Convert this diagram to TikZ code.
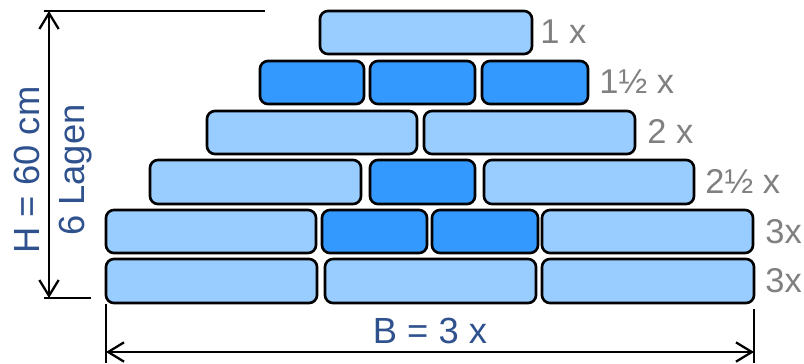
\documentclass[tikz,border=0pt]{standalone}
\usepackage{fontspec}
\setmainfont{Liberation Sans}
\usetikzlibrary{arrows.meta}

\definecolor{brickLight}{RGB}{153,204,255}
\definecolor{brickDark}{RGB}{51,153,255}
\definecolor{countGray}{RGB}{128,128,128}
\definecolor{dimBlue}{RGB}{47,82,143}

\tikzset{
  lightbrick/.style={draw=black, line width=1.5pt, rounded corners=4.5pt, fill=brickLight},
  darkbrick/.style={draw=black, line width=1.5pt, rounded corners=4.5pt, fill=brickDark},
  count/.style={text=countGray, anchor=base west, inner sep=0pt, font=\fontsize{19.6}{23.5}\selectfont},
  dimtext/.style={text=dimBlue, inner sep=0pt, font=\fontsize{20.7}{25.5}\selectfont},
  dimline/.style={line width=1.3pt, {Straight Barb[length=9pt,width=11pt]}-{Straight Barb[length=9pt,width=11pt]}},
  extline/.style={line width=1.6pt},
}

\begin{document}
\begin{tikzpicture}[x=0.02cm, y=-0.02cm]
\useasboundingbox (0,0) rectangle (804,363);

% layer 1 (top)
\draw[lightbrick] (320,11) rectangle (532,54);
\node[count] (c1) at (540,43) {1 x};

% layer 2
\draw[darkbrick] (260,61) rectangle (364,104);
\draw[darkbrick] (370,61) rectangle (475,104);
\draw[darkbrick] (482,61) rectangle (588,104);
\node[count] (c2) at (599,93) {1½ x};

% layer 3
\draw[lightbrick] (207,111) rectangle (417,154);
\draw[lightbrick] (424,111) rectangle (635,154);
\node[count] (c3) at (647,143) {2 x};

% layer 4
\draw[lightbrick] (150,160) rectangle (361,204);
\draw[darkbrick] (370,160) rectangle (475,204);
\draw[lightbrick] (484,160) rectangle (694,204);
\node[count] (c4) at (705,193) {2½ x};

% layer 5
\draw[lightbrick] (106,210) rectangle (316,253);
\draw[darkbrick] (322,210) rectangle (427,253);
\draw[darkbrick] (432,210) rectangle (538,253);
\draw[lightbrick] (542,210) rectangle (753,253);
\node[count] (c5) at (765,243) {3x};

% layer 6 (bottom)
\draw[lightbrick] (106,259) rectangle (317,303);
\draw[lightbrick] (325,259) rectangle (536,303);
\draw[lightbrick] (542,259) rectangle (754,303);
\node[count] (c6) at (765,292) {3x};

% height H
\coordinate (htopL) at (44,11);
\coordinate (htopR) at (265,11);
\coordinate (hbotL) at (44,298);
\coordinate (hbotR) at (91,298);
\coordinate (htop) at (49,11);
\coordinate (hbot) at (49,298);
\draw[extline] (htopL) -- (htopR);
\draw[extline] (hbotL) -- (hbotR);
\draw[dimline] (htop) -- (hbot);
\node[dimtext, rotate=90, align=center] (hlabel) at (53,170) {H = 60 cm\\6 Lagen};

% width B
\coordinate (bleftT) at (106,304);
\coordinate (bleftB) at (106,363);
\coordinate (brightT) at (754,309);
\coordinate (brightB) at (754,363);
\coordinate (bleft) at (106,352);
\coordinate (bright) at (754,352);
\draw[extline] (bleftT) -- (bleftB);
\draw[extline] (brightT) -- (brightB);
\draw[dimline] (bleft) -- (bright);
\node[dimtext, anchor=base] (blabel) at (430,343) {B = 3 x};

\end{tikzpicture}
\end{document}
